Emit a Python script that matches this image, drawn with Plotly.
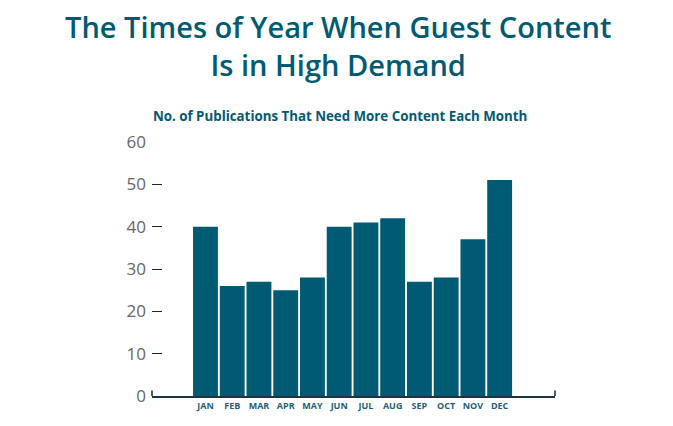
import plotly.graph_objects as go

months = ["JAN", "FEB", "MAR", "APR", "MAY", "JUN", "JUL", "AUG", "SEP", "OCT", "NOV", "DEC"]
publications = [40, 26, 27, 25, 28, 40, 41, 42, 27, 28, 37, 51]
y_ticks = [0, 10, 20, 30, 40, 50, 60]
title_lines = ["The Times of Year When Guest Content", "Is in High Demand"]
subtitle = "No. of Publications That Need More Content Each Month"

TEAL = "#005B72"
FONT = "Open Sans"

fig = go.Figure(go.Bar(x=months, y=publications, marker=dict(color=TEAL, line=dict(width=0))))

fig.update_layout(
    width=673, height=426,
    margin=dict(l=152, r=118, t=142, b=30),
    plot_bgcolor="white", paper_bgcolor="white",
    bargap=0.07,
    showlegend=False,
    font=dict(family=FONT),
)

fig.update_xaxes(
    type="category", range=[-2.0, 13.07],
    showline=True, linecolor="#1c3540", linewidth=1.5,
    ticks="", showgrid=False, zeroline=False,
    tickfont=dict(family=FONT, size=9, color="#1f5f73", weight="bold"),
)
fig.update_yaxes(
    range=[0, 60], tickvals=y_ticks,
    ticks="inside", ticklen=10, tickcolor="#222", tickwidth=1.2,
    showgrid=False, zeroline=False, showline=False,
    tickfont=dict(family=FONT, size=17, color="#666666"),
    ticklabelstandoff=5,
)

# end ticks on the baseline
for xp in [0, 1]:
    fig.add_shape(type="line", xref="paper", yref="paper", x0=xp, x1=xp, y0=0, y1=0.022,
                  line=dict(color="#222", width=1.5))

fig.add_annotation(
    text="<br>".join(title_lines), xref="paper", yref="paper", x=0.5, y=1.0, yshift=97,
    xanchor="center", yanchor="middle", align="center", showarrow=False,
    xshift=-16,
    font=dict(family=FONT, size=29, color=TEAL, weight=600),
)

fig.add_annotation(
    text=subtitle,
    xref="paper", yref="paper", x=0.5, y=1.0, yshift=26, xshift=-14,
    xanchor="center", yanchor="middle",
    showarrow=False, font=dict(family=FONT, size=13.3, color=TEAL, weight="bold"),
)

fig.write_html("out.html")
